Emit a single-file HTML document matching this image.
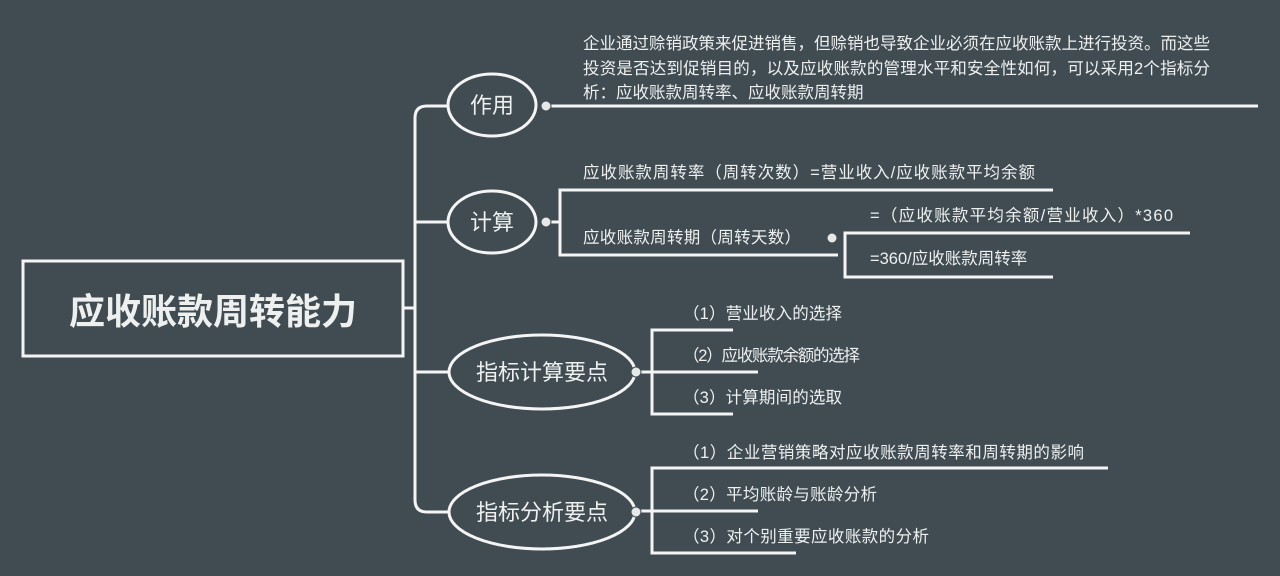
<!DOCTYPE html>
<html><head><meta charset="utf-8"><style>
html,body{margin:0;padding:0;background:#404c52;}
svg{display:block}
text{font-family:"Liberation Sans","Noto Sans CJK SC",sans-serif;fill:#eef0f0;}
</style></head><body>
<svg width="1280" height="576" viewBox="0 0 1280 576" xmlns="http://www.w3.org/2000/svg">
<rect width="1280" height="576" fill="#404c52"/>
<g stroke="#f4f4f4" stroke-width="3" fill="none">
<rect x="23" y="261" width="380" height="95"/>
<line x1="403" y1="308" x2="415" y2="308"/>
<path d="M448 106 H427 Q415 106 415 118 V500 Q415 512 427 512 H448"/>
<line x1="415" y1="222" x2="448" y2="222"/>
<line x1="415" y1="372" x2="448" y2="372"/>
<ellipse cx="492" cy="105" rx="44" ry="31"/>
<ellipse cx="492" cy="222" rx="44" ry="31"/>
<ellipse cx="542" cy="372" rx="93" ry="37"/>
<ellipse cx="542" cy="512" rx="93" ry="37"/>
<line x1="550" y1="106" x2="1258" y2="106"/>
<path d="M1053 190 H560 V255 H838"/>
<line x1="550" y1="222" x2="560" y2="222"/>
<path d="M1190 233 H845 V277 H1053"/>
<path d="M733 330 H652 V414 H733"/>
<line x1="640" y1="372" x2="758" y2="372"/>
<path d="M1108 468 H652 V553 H796"/>
<line x1="640" y1="511" x2="758" y2="511"/>
</g>
<g fill="#e6e8e8" stroke="#404c52" stroke-width="1">
<circle cx="546" cy="106" r="5"/>
<circle cx="546" cy="222" r="5"/>
<circle cx="832" cy="238" r="5"/>
<circle cx="636" cy="372" r="5"/>
<circle cx="636" cy="512" r="5"/>
</g>
<text x="213" y="324" font-size="36" font-weight="bold" text-anchor="middle">应收账款周转能力</text>
<text x="492" y="113" font-size="22" text-anchor="middle">作用</text>
<text x="492" y="230" font-size="22" text-anchor="middle">计算</text>
<text x="542" y="380" font-size="22" text-anchor="middle">指标计算要点</text>
<text x="542" y="520" font-size="22" text-anchor="middle">指标分析要点</text>
<g font-size="16.5">
<text x="583" y="49" textLength="627">企业通过赊销政策来促进销售，但赊销也导致企业必须在应收账款上进行投资。而这些</text>
<text x="583" y="74" textLength="627">投资是否达到促销目的，以及应收账款的管理水平和安全性如何，可以采用2个指标分</text>
<text x="583" y="98">析：应收账款周转率、应收账款周转期</text>
<text x="583" y="178" textLength="452">应收账款周转率（周转次数）=营业收入/应收账款平均余额</text>
<text x="583" y="243" textLength="218">应收账款周转期（周转天数）</text>
<text x="870" y="221" textLength="303">=（应收账款平均余额/营业收入）*360</text>
<text x="870" y="264">=360/应收账款周转率</text>
<text x="683" y="319" textLength="159">（1）营业收入的选择</text>
<text x="683" y="361" textLength="177">（2）应收账款余额的选择</text>
<text x="683" y="403" textLength="159">（3）计算期间的选取</text>
<text x="683" y="458" textLength="401">（1）企业营销策略对应收账款周转率和周转期的影响</text>
<text x="683" y="500" textLength="194">（2）平均账龄与账龄分析</text>
<text x="683" y="542" textLength="246">（3）对个别重要应收账款的分析</text>
</g>
</svg>
</body></html>
